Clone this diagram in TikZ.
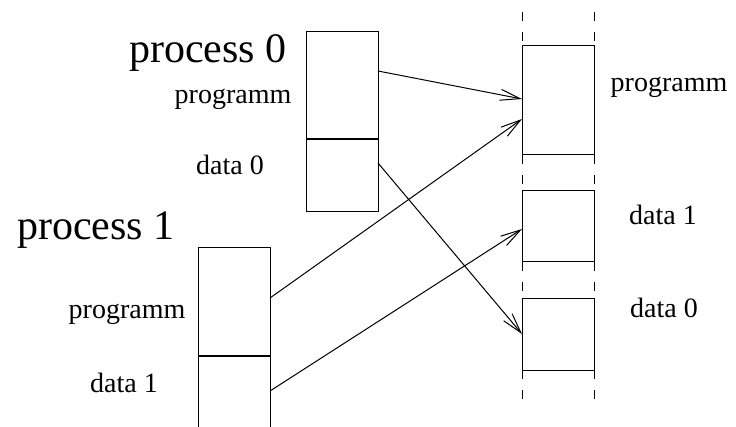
\documentclass[tikz,border=0pt]{standalone}
\usepackage{fontspec}
\setmainfont{Liberation Serif}
\usetikzlibrary{positioning,arrows.meta}

\begin{document}
\begin{tikzpicture}[x=1pt, y=1pt, line width=1pt,
	>={Straight Barb[length=20pt,width=11pt]},
	seg/.style = {draw, rectangle, minimum width=72pt, inner sep=0pt, outer sep=0pt},
	title/.style = {font=\fontsize{42}{42}\selectfont, inner sep=0pt, anchor=base east},
	lbl/.style = {font=\fontsize{28}{28}\selectfont, inner sep=0pt, anchor=base},
	gap/.style = {dash pattern=on 9pt off 11pt}]
	\useasboundingbox (0,0) rectangle (736,426);
	\clip (0,0) rectangle (736,426);
	% process 0
	\node[seg, minimum height=107pt] (p0prog) at (342,340.5) {};
	\node[seg, minimum height=73pt] (p0data) [below=0pt of p0prog] {};
	\draw[line width=2pt] (p0prog.south west) -- (p0prog.south east);
	% process 1
	\node[seg, minimum height=108pt] (p1prog) at (234,124) {};
	\node[seg, minimum height=73pt] (p1data) [below=0pt of p1prog] {};
	\draw[line width=2pt] (p1prog.south west) -- (p1prog.south east);
	% shared memory
	\node[seg, minimum height=109pt] (mprog) at (558,325.5) {};
	\node[seg, minimum height=71pt] (mdata1) [below=36pt of mprog] {};
	\node[seg, minimum height=72pt] (mdata0) [below=36pt of mdata1] {};
	\coordinate (topw) at ([yshift=34pt]mprog.north west);
	\coordinate (tope) at ([yshift=34pt]mprog.north east);
	\coordinate (botw) at ([yshift=-32pt]mdata0.south west);
	\coordinate (bote) at ([yshift=-32pt]mdata0.south east);
	\draw[gap] (topw) -- (mprog.north west);
	\draw[gap] (tope) -- (mprog.north east);
	\draw[gap] (mprog.south west) -- (mdata1.north west);
	\draw[gap] (mprog.south east) -- (mdata1.north east);
	\draw[gap] (mdata1.south west) -- (mdata0.north west);
	\draw[gap] (mdata1.south east) -- (mdata0.north east);
	\draw[gap] (mdata0.south west) -- (botw);
	\draw[gap] (mdata0.south east) -- (bote);
	% labels
	\node[title] (t0) at (287,363) {process 0};
	\node[title] (t1) at (175,186) {process 1};
	\node[lbl] (l0prog) at (233,322) {programm};
	\node[lbl] (l0data) at (230,251) {data 0};
	\node[lbl] (l1prog) at (127,108) {programm};
	\node[lbl] (l1data) at (124,34) {data 1};
	\node[lbl] (lmprog) at (669,334) {programm};
	\node[lbl] (lmdata1) at (663,201) {data 1};
	\node[lbl] (lmdata0) at (664,109) {data 0};
	% mappings
	\draw[->] ([yshift=14.5pt]p0prog.east) -- ([yshift=1.5pt]mprog.west);
	\draw[->] ([yshift=4pt]p1prog.east) -- ([yshift=-18.5pt]mprog.west);
	\draw[->] ([yshift=12.5pt]p0data.east) -- (mdata0.west);
	\draw[->] ([yshift=1.5pt]p1data.east) -- ([yshift=-2.5pt]mdata1.west);
\end{tikzpicture}
\end{document}
